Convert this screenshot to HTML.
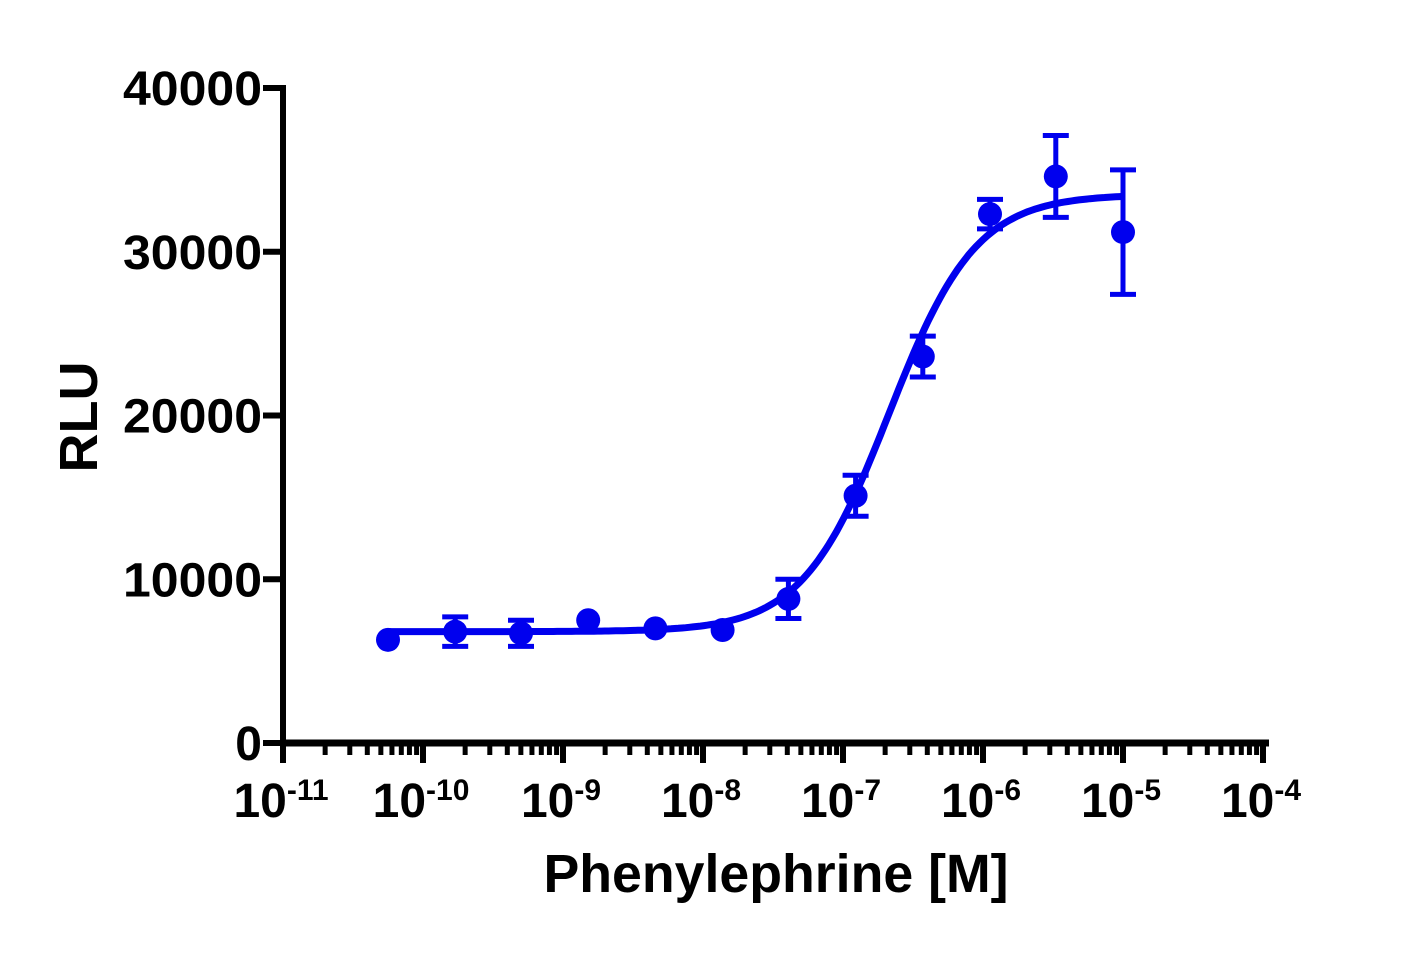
<!DOCTYPE html>
<html><head><meta charset="utf-8"><style>
body{margin:0;background:#fff}
svg text{font-family:"Liberation Sans",Arial,sans-serif;font-weight:bold;fill:#000}
</style></head><body>
<svg id="c" width="1417" height="951" viewBox="0 0 1417 951" xmlns="http://www.w3.org/2000/svg"></svg>
<script>
const logConc=[-10.25,-9.77,-9.30,-8.82,-8.34,-7.86,-7.39,-6.91,-6.43,-5.95,-5.48,-5.0];
const rlu=[6300,6800,6700,7500,7000,6900,8800,15100,23600,32300,34600,31200];
const sem=[0,900,800,0,0,0,1200,1250,1250,900,2500,3800];
const yTicks=[0,10000,20000,30000,40000];
const xDecades=[-11,-10,-9,-8,-7,-6,-5,-4];
const fitParams=[6800,33500,-6.67,1.4]; // bottom, top, logEC50, hill
const NS='http://www.w3.org/2000/svg';
const svg=document.getElementById('c');
const X=v=>283+(v+11)*140;
const Y=v=>743-v*0.016375;
function el(t,a,p){const e=document.createElementNS(NS,t);for(const k in a)e.setAttribute(k,a[k]);(p||svg).appendChild(e);return e;}
const blue='#0000ee';
let ya=el('line',{x1:283,y1:85,x2:283,y2:763,stroke:'#000','stroke-width':6});

let xa=el('line',{x1:280,y1:743,x2:1269,y2:743,stroke:'#000','stroke-width':7});

yTicks.forEach(v=>{
  el('line',{x1:263,y1:Y(v),x2:286,y2:Y(v),stroke:'#000','stroke-width':6});
  const t=el('text',{x:262,y:Y(v)+17,'font-size':48,'text-anchor':'end',textLength:139,lengthAdjust:'spacingAndGlyphs'});
  if(v===0){t.removeAttribute('textLength');t.removeAttribute('lengthAdjust');}
  t.textContent=v;
  
});
xDecades.forEach((d,i)=>{
  el('line',{x1:X(d),y1:740,x2:X(d),y2:763,stroke:'#000','stroke-width':6});
  if(i<xDecades.length-1){for(let m=2;m<10;m++){const xx=X(d+Math.log10(m));el('line',{x1:xx,y1:740,x2:xx,y2:755,stroke:'#000','stroke-width':5});}}
  const t=el('text',{x:X(d)-2,y:817,'font-size':48,'text-anchor':'middle'});
  
  t.textContent='10';
  const s=el('tspan',{dy:-17,'font-size':30},t);s.textContent=String(d);
});
let yt=el('text',{x:0,y:0,'font-size':54,'text-anchor':'middle',transform:'translate(97,417) rotate(-90)'});
yt.textContent='RLU';
let xt=el('text',{x:776,y:892,'font-size':54,'text-anchor':'middle',textLength:465,lengthAdjust:'spacingAndGlyphs'});
xt.textContent='Phenylephrine [M]';
const [b,tp,ec,h]=fitParams;let d='';
for(let i=0;i<=200;i++){const lx=logConc[0]+(logConc[logConc.length-1]-logConc[0])*i/200;
 const yv=b+(tp-b)/(1+Math.pow(10,(ec-lx)*h));d+=(i?'L':'M')+X(lx).toFixed(1)+','+Y(yv).toFixed(1);}
let fc=el('path',{d:d,fill:'none',stroke:blue,'stroke-width':7});

logConc.forEach((lx,i)=>{
  const g=el('g',{});
  const x=X(lx);
  if(sem[i]>0){const y1=Y(rlu[i]+sem[i]),y2=Y(rlu[i]-sem[i]);
    el('line',{x1:x,y1:y1,x2:x,y2:y2,stroke:blue,'stroke-width':5},g);
    el('line',{x1:x-13,y1:y1,x2:x+13,y2:y1,stroke:blue,'stroke-width':5},g);
    el('line',{x1:x-13,y1:y2,x2:x+13,y2:y2,stroke:blue,'stroke-width':5},g);}
  el('circle',{cx:x,cy:Y(rlu[i]),r:12,fill:blue},g);
});
</script>
</body></html>
